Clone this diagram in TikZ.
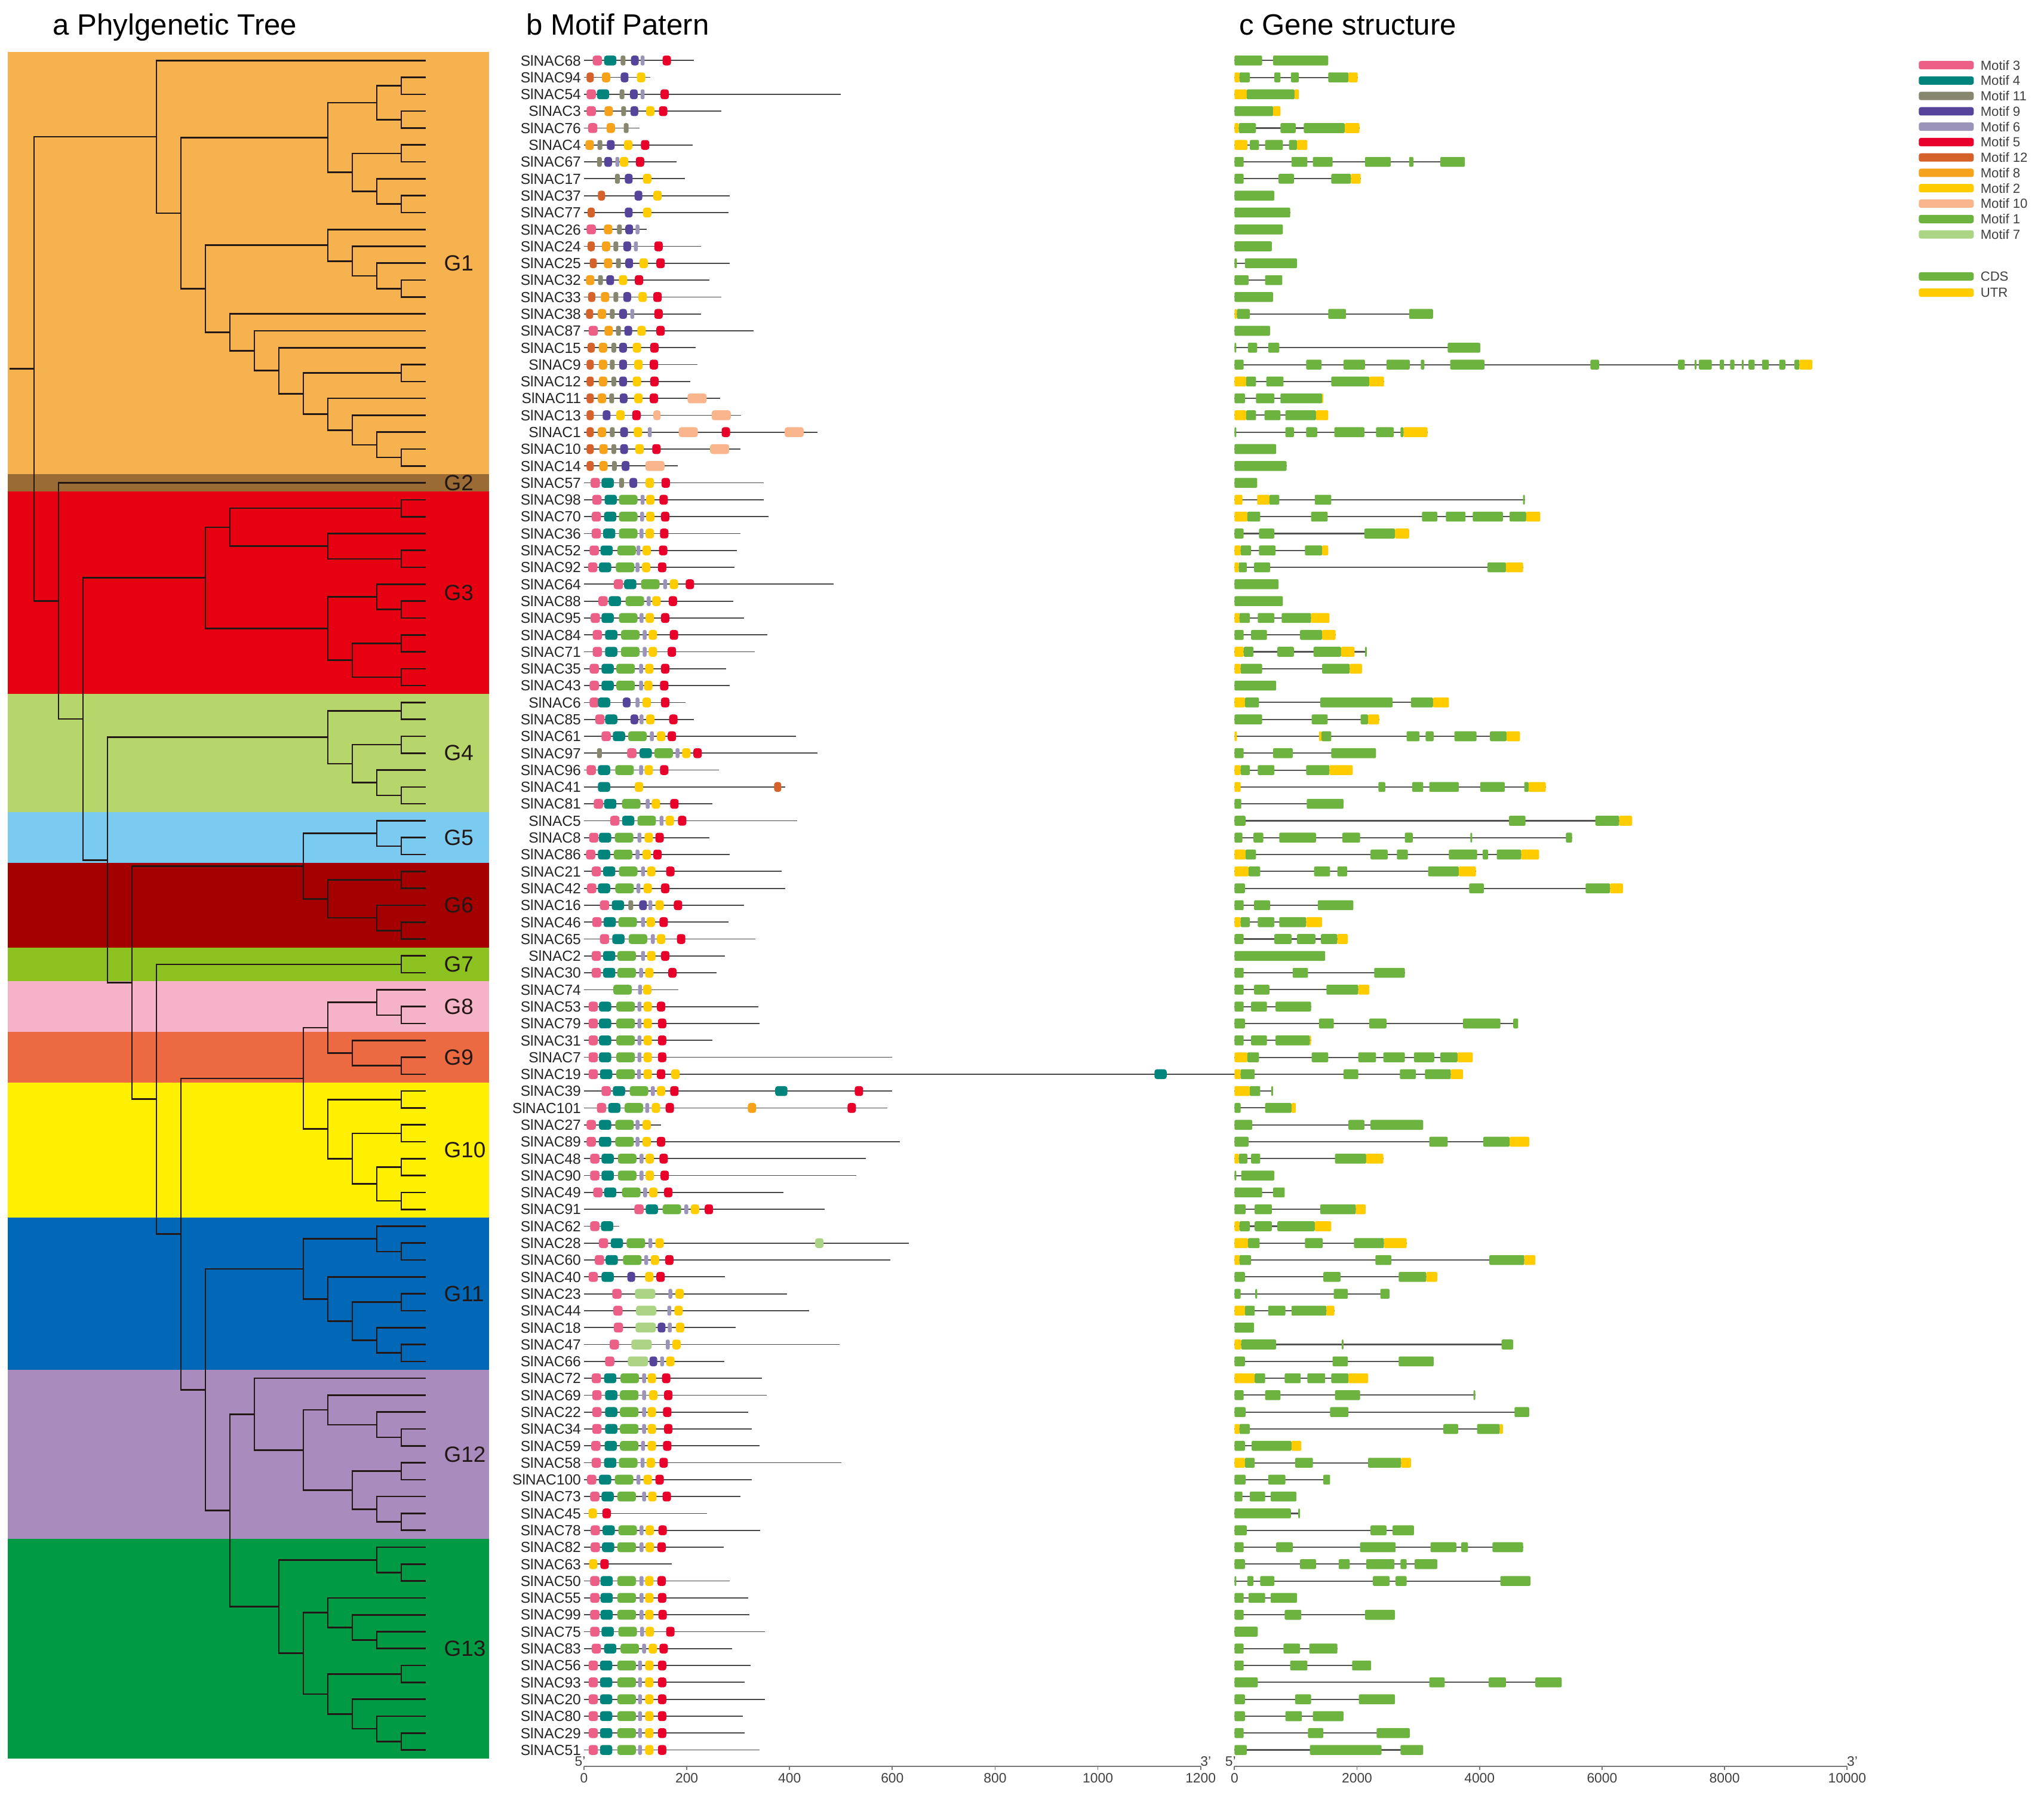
\documentclass[tikz,border=0pt]{standalone}
\usepackage{fontspec}
\setmainfont{Liberation Sans}
\usetikzlibrary{calc}

% group colours
\definecolor{gA}{HTML}{F5B24E}
\definecolor{gB}{HTML}{9B6B35}
\definecolor{gC}{HTML}{E60012}
\definecolor{gD}{HTML}{B6D56B}
\definecolor{gE}{HTML}{7BCBF0}
\definecolor{gF}{HTML}{A50000}
\definecolor{gG}{HTML}{8CC21F}
\definecolor{gH}{HTML}{F4B3C9}
\definecolor{gI}{HTML}{EC6A42}
\definecolor{gJ}{HTML}{FFF000}
\definecolor{gK}{HTML}{0068B7}
\definecolor{gL}{HTML}{A98BBE}
\definecolor{gM}{HTML}{009A44}
% motif colours
\definecolor{cm1}{HTML}{6DB33F}
\definecolor{cm2}{HTML}{FFCC00}
\definecolor{cm3}{HTML}{EC5F87}
\definecolor{cm4}{HTML}{00847C}
\definecolor{cm5}{HTML}{E8002A}
\definecolor{cm6}{HTML}{9B94B8}
\definecolor{cm7}{HTML}{ABD585}
\definecolor{cm8}{HTML}{F7A21B}
\definecolor{cm9}{HTML}{56449A}
\definecolor{cm10}{HTML}{F9B58C}
\definecolor{cm11}{HTML}{87876F}
\definecolor{cm12}{HTML}{D4622A}
\definecolor{treeline}{HTML}{231815}
\definecolor{axisgray}{HTML}{777777}

% one clade of the cladogram: name, level, upper child, lower child
\newcommand{\clade}[4]{%
  \coordinate (mid) at ($(#3)!0.5!(#4)$);
  \coordinate (#1) at (L#2 |- mid);
  \draw[branch] (#3) -| (#1) |- (#4);
}

\begin{document}
\begin{tikzpicture}[
  x=0.02183cm, y=-0.02183cm,
  branch/.style={draw=treeline, line width=0.75pt},
  title/.style={anchor=base west, font=\fontsize{14}{16}\selectfont},
  glabel/.style={anchor=west, text=treeline, font=\fontsize{10.5}{12}\selectfont},
  genelab/.style={anchor=east, inner sep=0pt, text=black!85, font=\fontsize{7}{8}\selectfont},
  protline/.style={draw=black!72, line width=0.5pt},
  intron/.style={draw=black!68, line width=0.6pt},
  motif/.style={rectangle, rounded corners=1.2pt, inner sep=0pt, minimum height=0.165cm},
  mot1/.style={motif, fill=cm1, minimum width=0.31cm},
  mot2/.style={motif, fill=cm2, minimum width=0.14cm},
  mot3/.style={motif, fill=cm3, minimum width=0.155cm},
  mot4/.style={motif, fill=cm4, minimum width=0.205cm},
  mot5/.style={motif, fill=cm5, minimum width=0.14cm},
  mot6/.style={motif, fill=cm6, minimum width=0.065cm, rounded corners=0.7pt},
  mot7/.style={motif, fill=cm7, minimum width=0.34cm},
  mot8/.style={motif, fill=cm8, minimum width=0.14cm},
  mot9/.style={motif, fill=cm9, minimum width=0.13cm},
  mot10/.style={motif, fill=cm10, minimum width=0.32cm},
  mot11/.style={motif, fill=cm11, minimum width=0.08cm, rounded corners=0.8pt},
  mot12/.style={motif, fill=cm12, minimum width=0.12cm},
  motq/.style={motif, fill=cm10, minimum width=0.12cm},
  motr/.style={motif, fill=cm7, minimum width=0.14cm},
  exc/.style={fill=cm1, rounded corners=0.6pt},
  exu/.style={fill=cm2, rounded corners=0.6pt},
  legbar/.style={rectangle, rounded corners=1pt, inner sep=0pt, minimum width=0.92cm, minimum height=0.14cm},
  leglab/.style={anchor=west, inner sep=0pt, text=black!75, font=\fontsize{6.3}{7}\selectfont},
  ticklab/.style={anchor=north, inner sep=0pt, text=black!75, font=\fontsize{6.5}{7}\selectfont},
  endlab/.style={anchor=south, inner sep=0pt, text=black!75, font=\fontsize{6.5}{7}\selectfont}
]
\useasboundingbox (0,0) rectangle (1568,1379);
\fill[white] (0,0) rectangle (1568,1379);

% panel titles
\node[title] (ta) at (35,27) {a Phylgenetic Tree};
\node[title] (tb) at (398,27) {b Motif Patern};
\node[title] (tc) at (945,27) {c Gene structure};

% group bands
\foreach \g/\a/\b/\col in {1/1/25/gA,2/26/26/gB,3/27/38/gC,4/39/45/gD,5/46/48/gE,6/49/53/gF,7/54/55/gG,
    8/56/58/gH,9/59/61/gI,10/62/69/gJ,11/70/78/gK,12/79/88/gL,13/89/101/gM}{
  \fill[\col] (6,{46.4+12.96*(\a-1)-6.48}) rectangle (375,{46.4+12.96*(\b-1)+6.48});
  \node[glabel] (G\g) at (335,{46.4+12.96*((\a+\b)/2-1)}) {G\g};
}

% leaves and levels of the tree
\foreach \i in {1,...,101}
  \coordinate (l\i) at (326.6,{46.4+12.96*(\i-1)});
\foreach \k in {0,...,17}
  \coordinate (L\k) at ({7.3+18.78*\k},0);

% G1
\clade{a1}{16}{l2}{l3}
\clade{a2}{16}{l4}{l5}
\clade{a3}{15}{a1}{a2}
\clade{a4}{16}{l6}{l7}
\clade{a5}{16}{l9}{l10}
\clade{a6}{15}{l8}{a5}
\clade{a7}{14}{a4}{a6}
\clade{a8}{13}{a3}{a7}
\clade{a9}{16}{l14}{l15}
\clade{a10}{15}{l13}{a9}
\clade{a11}{14}{l12}{a10}
\clade{a12}{13}{l11}{a11}
\clade{a13}{16}{l24}{l25}
\clade{a14}{15}{l23}{a13}
\clade{a15}{14}{l22}{a14}
\clade{a16}{13}{l21}{a15}
\clade{a17}{16}{l19}{l20}
\clade{a18}{12}{a17}{a16}
\clade{a19}{11}{l18}{a18}
\clade{a20}{10}{l17}{a19}
\clade{a21}{9}{l16}{a20}
\clade{a22}{8}{a12}{a21}
\clade{a23}{7}{a8}{a22}
\clade{a24}{6}{l1}{a23}
% G3
\clade{b1}{16}{l27}{l28}
\clade{b2}{16}{l30}{l31}
\clade{b3}{13}{l29}{b2}
\clade{b4}{9}{b1}{b3}
\clade{b5}{16}{l33}{l34}
\clade{b6}{15}{l32}{b5}
\clade{b7}{16}{l35}{l36}
\clade{b8}{16}{l37}{l38}
\clade{b9}{14}{b7}{b8}
\clade{b10}{13}{b6}{b9}
\clade{b11}{8}{b4}{b10}
% G4
\clade{c1}{16}{l39}{l40}
\clade{c2}{16}{l41}{l42}
\clade{c3}{16}{l44}{l45}
\clade{c4}{15}{l43}{c3}
\clade{c5}{14}{c2}{c4}
\clade{c6}{13}{c1}{c5}
% G5 and G6
\clade{d1}{16}{l47}{l48}
\clade{d2}{15}{l46}{d1}
\clade{d3}{16}{l49}{l50}
\clade{d4}{16}{l52}{l53}
\clade{d5}{15}{l51}{d4}
\clade{d6}{13}{d3}{d5}
\clade{d7}{12}{d2}{d6}
% G7
\clade{e1}{16}{l54}{l55}
% G8, G9 and G10
\clade{f1}{16}{l57}{l58}
\clade{f2}{15}{l56}{f1}
\clade{f3}{16}{l60}{l61}
\clade{f4}{14}{l59}{f3}
\clade{f5}{13}{f2}{f4}
\clade{f6}{16}{l62}{l63}
\clade{f7}{16}{l64}{l65}
\clade{f8}{16}{l66}{l67}
\clade{f9}{16}{l68}{l69}
\clade{f10}{15}{f8}{f9}
\clade{f11}{14}{f7}{f10}
\clade{f12}{13}{f6}{f11}
\clade{f13}{12}{f5}{f12}
% G11
\clade{g1}{16}{l71}{l72}
\clade{g2}{15}{l70}{g1}
\clade{g3}{16}{l74}{l75}
\clade{g4}{16}{l77}{l78}
\clade{g5}{15}{l76}{g4}
\clade{g6}{14}{g3}{g5}
\clade{g7}{13}{l73}{g6}
\clade{g8}{12}{g2}{g7}
% G12
\clade{h1}{16}{l82}{l83}
\clade{h2}{15}{l81}{h1}
\clade{h3}{13}{l80}{h2}
\clade{h4}{16}{l84}{l85}
\clade{h5}{16}{l87}{l88}
\clade{h6}{15}{l86}{h5}
\clade{h7}{14}{h4}{h6}
\clade{h8}{12}{h3}{h7}
\clade{h9}{10}{l79}{h8}
% G13
\clade{k1}{16}{l90}{l91}
\clade{k2}{15}{l89}{k1}
\clade{k3}{15}{l94}{l95}
\clade{k4}{14}{l93}{k3}
\clade{k5}{13}{l92}{k4}
\clade{k6}{16}{l96}{l97}
\clade{k7}{16}{l100}{l101}
\clade{k8}{15}{l99}{k7}
\clade{k9}{14}{l98}{k8}
\clade{k10}{13}{k6}{k9}
\clade{k11}{12}{k5}{k10}
\clade{k12}{11}{k2}{k11}
\clade{k13}{9}{h9}{k12}
% backbone
\clade{m1}{8}{g8}{k13}
\clade{m2}{7}{f13}{m1}
\clade{m3}{6}{e1}{m2}
\clade{m4}{5}{d7}{m3}
\clade{m5}{4}{c6}{m4}
\clade{m6}{3}{b11}{m5}
\clade{m7}{2}{l26}{m6}
\clade{m8}{1}{a24}{m7}
\draw[branch] (L0 |- m8) -- (m8);

% motif pattern: row/gene/length/motifs
\foreach \i/\n/\len/\mots in {
  1/68/214/{3/26,4/51,11/76,9/99,6/114,5/161},
  2/94/129/{12/12,8/43,9/79,2/111},
  3/54/500/{3/14,4/37,11/74,9/97,6/114,5/157},
  4/3/267/{3/14,8/48,11/77,9/98,2/129,5/154},
  5/76/108/{3/17,8/52,11/82},
  6/4/212/{8/11,11/31,9/52,2/86,5/119},
  7/67/180/{11/30,9/47,6/65,2/78,5/109},
  8/17/196/{11/65,9/87,2/123},
  9/37/283/{12/34,9/106,2/143},
  10/77/281/{12/14,9/87,2/123},
  11/26/122/{3/14,8/47,11/69,9/88,6/104},
  12/24/228/{12/14,8/43,11/62,9/84,6/101,5/145},
  13/25/283/{12/18,8/47,11/67,9/88,2/116,5/149},
  14/32/244/{8/12,11/32,9/51,2/76,5/107},
  15/33/267/{12/15,8/41,11/62,9/84,2/114,5/143},
  16/38/228/{12/11,8/35,11/55,9/76,6/94,5/145},
  17/87/330/{3/18,8/48,11/67,9/86,2/112,5/149},
  18/15/217/{12/14,8/37,11/58,9/76,2/103,5/137},
  19/9/221/{12/12,8/37,11/55,9/76,2/106,5/136},
  20/12/207/{12/12,8/37,11/58,9/76,2/103,5/137},
  21/11/265/{12/12,8/35,11/54,9/77,2/106,5/136,10/220},
  22/13/306/{12/12,9/44,2/71,5/102,q/142,10/267},
  23/1/454/{12/12,8/35,11/55,9/78,2/105,6/128,10/203,5/276,10/409},
  24/10/304/{12/12,8/38,11/58,9/78,2/108,5/141,10/264},
  25/14/182/{12/12,8/38,11/59,9/81,10/138},
  26/57/350/{3/22,4/46,11/73,9/96,2/128,5/159},
  27/98/350/{3/25,4/52,1/86,6/114,2/129,5/155},
  28/70/359/{3/24,4/51,1/86,6/113,2/129,5/158},
  29/36/304/{3/24,4/49,1/86,6/112,2/128,5/156},
  30/52/297/{3/20,4/44,1/83,6/106,2/122,5/154},
  31/92/293/{3/17,4/41,1/80,6/104,2/121,5/152},
  32/64/486/{3/67,4/90,1/129,6/158,2/175,5/206},
  33/88/290/{3/37,4/60,1/99,6/126,2/141,5/173},
  34/95/311/{3/22,4/46,1/86,6/112,2/128,5/158},
  35/84/357/{3/26,4/53,1/90,6/118,2/134,5/175},
  36/71/332/{3/26,4/53,1/90,6/118,2/134,5/171},
  37/35/276/{3/20,4/46,1/81,6/111,2/127,5/158},
  38/43/283/{3/20,4/46,1/81,6/111,2/125,5/156},
  39/6/198/{3/20,4/39,9/83,6/104,2/122,5/158},
  40/85/214/{3/31,4/53,9/98,6/112,2/129,5/174},
  41/61/412/{3/43,4/68,1/104,6/132,2/150,5/171},
  42/97/454/{11/30,3/93,4/120,1/155,6/182,2/199,5/221},
  43/96/263/{3/14,4/39,1/79,6/111,2/126,5/156},
  44/41/392/{4/39,2/107,12/377},
  45/81/250/{3/28,4/51,1/92,6/124,2/140,5/176},
  46/5/415/{3/60,4/86,1/122,6/151,2/167,5/191},
  47/8/244/{3/19,4/41,1/78,6/108,2/126,5/147},
  48/86/284/{3/13,4/39,1/76,6/104,2/122,5/143},
  49/21/385/{3/24,4/49,1/86,6/115,2/131,5/168},
  50/42/392/{3/15,4/39,1/79,6/106,2/124,5/158},
  51/16/311/{3/40,4/66,11/91,9/115,6/129,2/147,5/183},
  52/46/281/{3/25,4/50,1/85,6/115,2/130,5/155},
  53/65/333/{3/40,4/67,1/105,6/134,2/150,5/189},
  54/2/274/{3/24,4/49,1/83,6/115,2/131,5/158},
  55/30/258/{3/24,4/49,1/83,6/111,2/127,5/172},
  56/74/184/{1/75,6/109,2/123},
  57/53/339/{3/18,4/41,1/81,6/108,2/124,5/150},
  58/79/342/{3/18,4/41,1/81,6/108,2/124,5/152},
  59/31/250/{3/18,4/41,1/81,6/108,2/124,5/152},
  60/7/600/{3/18,4/41,1/81,6/108,2/124,5/152},
  61/19/1465/{3/18,4/43,1/81,6/107,2/124,5/150,2/178,4/1122},
  62/39/600/{3/43,4/68,1/107,6/134,2/150,5/176,4/384,5/535},
  63/101/590/{3/34,4/59,1/97,6/123,2/140,5/167,8/327,5/521},
  64/27/150/{3/14,4/41,1/79,6/104,2/122},
  65/89/615/{3/14,4/41,1/79,6/104,2/122,5/150},
  66/48/548/{3/21,4/46,1/84,6/112,2/128,5/155},
  67/90/530/{3/21,4/46,1/84,6/112,2/128,5/157},
  68/49/388/{3/27,4/51,1/92,6/119,2/135,5/164},
  69/91/468/{3/107,4/132,1/171,6/199,2/216,5/243},
  70/62/68/{3/21,4/45},
  71/28/632/{3/38,4/64,1/101,6/129,2/147,r/458},
  72/60/596/{3/30,4/54,1/94,6/121,2/138,5/166},
  73/40/274/{3/18,4/46,9/92,2/127,5/149},
  74/23/395/{3/64,7/119,6/168,2/186},
  75/44/438/{3/66,7/121,6/166,2/184},
  76/18/295/{3/67,7/120,9/151,6/167,2/187},
  77/47/497/{3/59,7/112,6/163,2/180},
  78/66/273/{3/50,7/105,9/135,6/152,2/168},
  79/72/346/{3/24,4/51,1/89,6/117,2/132,5/160},
  80/69/355/{3/25,4/53,1/88,6/117,2/135,5/164},
  81/22/320/{3/25,4/53,1/88,6/117,2/132,5/162},
  82/34/327/{3/25,4/53,1/88,6/117,2/132,5/164},
  83/59/342/{3/23,4/52,1/88,6/115,2/132,5/162},
  84/58/501/{3/24,4/51,1/86,6/114,2/130,5/155},
  85/100/327/{3/15,4/41,1/78,6/106,2/124,5/147},
  86/73/304/{3/21,4/46,1/83,6/117,2/133,5/161},
  87/45/239/{2/17,5/44},
  88/78/343/{3/22,4/48,1/85,6/112,2/128,5/153},
  89/82/272/{3/22,4/47,1/83,6/112,2/128,5/151},
  90/63/171/{2/18,5/40},
  91/50/283/{3/21,4/44,1/83,6/112,2/127,5/151},
  92/55/320/{3/21,4/44,1/83,6/112,2/127,5/152},
  93/99/322/{3/21,4/44,1/83,6/112,2/127,5/153},
  94/75/352/{3/21,4/46,1/85,6/113,2/128,5/168},
  95/83/288/{3/24,4/51,1/89,6/117,2/134,5/155},
  96/56/324/{3/18,4/43,1/83,6/109,2/127,5/152},
  97/93/313/{3/18,4/43,1/83,6/109,2/127,5/152},
  98/20/352/{3/18,4/43,1/83,6/109,2/127,5/152},
  99/80/309/{3/18,4/43,1/83,6/109,2/127,5/152},
  100/29/313/{3/18,4/43,1/83,6/109,2/127,5/152},
  101/51/342/{3/18,4/43,1/83,6/109,2/127,5/152}}{
  \pgfmathsetmacro\yy{46.4+12.96*(\i-1)}
  \node[genelab] (lab\i) at (446,\yy) {SlNAC\n};
  \coordinate (p\i) at (448,\yy);
  \draw[protline] (p\i) -- ++({0.3942*\len},0);
  \foreach \id/\c in \mots
    \node[mot\id] (mot\i-\c) at ({448+0.3942*\c},\yy) {};
}

% gene structure: row/length/exons (hundreds of bp)
\foreach \i/\gend/\segs in {
  1/15.3/{0/4.5/c,6.3/15.3/c},
  2/20.1/{0/0.8/u,0.8/2.5/c,6.5/7.5/c,9.2/10.5/c,15.3/18.6/c,18.6/20.1/u},
  3/10.5/{0/2/u,2/9.8/c,9.8/10.5/u},
  4/7.5/{0/6.3/c,6.3/7.5/u},
  5/20.4/{0/0.7/u,0.7/3.5/c,7.5/10/c,11.3/18/c,18/20.4/u},
  6/11.9/{0/2.1/u,2.5/4/c,5/7.9/c,8.9/10.2/c,10.2/11.9/u},
  7/37.6/{0/1.5/c,9.3/11.9/c,12.8/16/c,21.3/25.5/c,28.5/29.2/c,33.6/37.6/c},
  8/20.6/{0/1.5/c,7.2/9.7/c,15.8/19/c,19/20.6/u},
  9/6.5/{0/6.5/c},
  10/9.1/{0/9.1/c},
  11/7.9/{0/7.9/c},
  12/6.1/{0/6.1/c},
  13/10.2/{0/0.4/c,1.7/10.2/c},
  14/7.8/{0/2.3/c,5/7.8/c},
  15/6.3/{0/6.3/c},
  16/32.4/{0/0.4/u,0.4/2.5/c,15.3/18.2/c,28.5/32.4/c},
  17/5.8/{0/5.8/c},
  18/40.1/{0/0.3/c,2.2/3.7/c,5.5/7.3/c,34.8/40.1/c},
  19/94.3/{0/1.5/c,11.7/14.2/c,17.8/21.3/c,24.8/28.6/c,30.4/31/c,35.2/40.8/c,58.1/59.5/c,72.4/73.5/c,75.1/75.4/c,75.8/77.9/c,79.2/79.9/c,80.9/81.6/c,82.8/83.1/c,83.9/84.9/c,86.1/87.2/c,88.9/89.9/c,91.4/92.2/c,92.2/94.3/u},
  20/24.4/{0/1.9/u,1.9/3.5/c,5.2/8/c,15.8/22/c,22/24.4/u},
  21/14.5/{0/1.7/c,3.5/6.5/c,7.5/14.3/c,14.3/14.5/u},
  22/15.3/{0/1.9/u,1.9/3.5/c,4.9/7.5/c,8.3/13.3/c,13.3/15.3/u},
  23/31.5/{0/0.3/c,8.3/9.7/c,11.7/13.5/c,16.3/21.2/c,23.1/26/c,27.1/27.6/c,27.6/31.5/u},
  24/6.8/{0/6.8/c},
  25/8.5/{0/8.5/c},
  26/3.7/{0/3.7/c},
  27/47.4/{0/1.3/u,3.7/5.7/u,5.7/7.3/c,13.1/15.8/c,47.1/47.4/c},
  28/49.9/{0/2.1/u,2.1/4.2/c,12.5/15.2/c,30.6/33.1/c,34.5/37.7/c,38.9/43.8/c,44.9/47.6/c,47.6/49.9/u},
  29/28.5/{0/1.5/c,4/6.5/c,21.2/26.2/c,26.2/28.5/u},
  30/15.3/{0/1/u,1/2.7/c,4/6.7/c,11.5/14.3/c,14.3/15.3/u},
  31/47.1/{0/0.7/u,0.7/2/c,3.2/5.8/c,41.3/44.3/c,44.3/47.1/u},
  32/7.2/{0/7.2/c},
  33/7.9/{0/7.9/c},
  34/15.5/{0/0.8/u,0.8/2.5/c,3.8/6.5/c,7.7/12.5/c,12.5/15.5/u},
  35/16.5/{0/1.5/c,2.7/5.3/c,10.7/14.3/c,14.3/16.5/u},
  36/21.6/{0/1.5/u,1.5/3.1/c,7/9.7/c,12.9/17.4/c,17.4/19.6/u,21.3/21.6/c},
  37/20.8/{0/1/u,1/4.5/c,14.3/18.8/c,18.8/20.8/u},
  38/6.8/{0/6.8/c},
  39/35/{0/1.7/u,1.7/4/c,14/25.8/c,28.8/32.4/c,32.4/35/u},
  40/23.6/{0/4.5/c,12.6/15.2/c,20.6/21.8/c,21.8/23.6/u},
  41/46.6/{0/0.4/u,13.8/14.2/u,14.2/15.8/c,28.1/30.2/c,31.2/32.5/c,35.9/39.5/c,41.7/44.4/c,44.4/46.6/u},
  42/23.1/{0/1.5/c,6.3/9.5/c,15.8/23.1/c},
  43/19.3/{0/1/u,1/2.5/c,3.8/6.5/c,11.7/15.5/c,15.5/19.3/u},
  44/50.8/{0/1/u,23.5/24.6/c,29/30.8/c,31.8/36.6/c,40.1/44.1/c,47.3/48/c,48/50.8/u},
  45/17.8/{0/1.1/c,11.8/17.8/c},
  46/64.9/{0/1.8/c,44.8/47.5/c,58.9/62.8/c,62.8/64.9/u},
  47/55.1/{0/1.3/c,3.1/4.7/c,7.3/13.3/c,17.6/20.5/c,27.8/29.1/c,38.5/38.8/c,54.1/55.1/c},
  48/49.7/{0/1.8/u,1.8/3.5/c,22.2/25/c,26.5/28.3/c,35/39.6/c,40.5/41.4/c,42.8/46.8/c,46.8/49.7/u},
  49/39.4/{0/2.3/u,2.3/4.2/c,13/15.6/c,16.8/18.4/c,31.6/36.6/c,36.6/39.4/u},
  50/63.4/{0/1.7/c,38.3/40.7/c,57.3/61.3/c,61.3/63.4/u},
  51/19.4/{0/1.5/c,3.2/5.8/c,13.6/19.4/c},
  52/14.3/{0/1/u,1/2.5/c,3.8/6.5/c,7.3/11.7/c,11.7/14.3/u},
  53/18.5/{0/1.5/c,6.5/9.3/c,10.2/13.2/c,14.1/16.8/c,16.8/18.5/u},
  54/14.8/{0/14.8/c},
  55/27.8/{0/1.5/c,9.5/12/c,22.8/27.8/c},
  56/22/{0/1.5/c,3.2/5.7/c,15/20.2/c,20.2/22/u},
  57/12.5/{0/1.5/c,2.7/5.3/c,6.7/12.5/c},
  58/46.3/{0/1.7/c,13.8/16.2/c,22/24.8/c,37.3/43.4/c,45.5/46.3/c},
  59/12.5/{0/1.5/c,2.7/5.3/c,6.7/12.3/c,12.3/12.5/u},
  60/38.9/{0/2.1/u,2.1/4/c,12.6/15.3/c,20.2/23.1/c,24.3/27.8/c,29.3/32.6/c,33.6/36.4/c,36.4/38.9/u},
  61/37.3/{0/1/u,1/3.3/c,17.8/20.2/c,27/29.6/c,31.1/35.3/c,35.3/37.3/u},
  62/6.3/{0/2.5/u,2.5/4.2/c,6/6.3/c},
  63/10/{0/1/c,5/9.3/c,9.3/10/u},
  64/30.8/{0/2.9/c,18.6/21.2/c,22.2/30.8/c},
  65/48.1/{0/2.3/c,31.8/34.8/c,40.6/44.9/c,44.9/48.1/u},
  66/24.3/{0/0.7/u,0.7/2.1/c,2.7/4.2/c,16.4/21.5/c,21.5/24.3/u},
  67/6.5/{0/0.3/c,1.1/6.5/c},
  68/8.2/{0/4.5/c,6.3/8.2/c},
  69/21.4/{0/1.8/c,3.3/6.1/c,14/19.8/c,19.8/21.4/u},
  70/15.8/{0/0.8/u,0.8/2.5/c,3.3/6.1/c,7/13.1/c,13.1/15.8/u},
  71/28.1/{0/2.2/u,2.2/4.1/c,11.5/14.4/c,19.5/24.4/c,24.4/28.1/u},
  72/49.1/{0/0.8/u,0.8/2.7/c,23/25.6/c,41.6/47.3/c,47.3/49.1/u},
  73/33.1/{0/1.7/c,14.5/17.3/c,26.8/31.3/c,31.3/33.1/u},
  74/25.3/{0/1/c,3.4/3.7/c,16.2/18.5/c,23.8/25.3/c},
  75/16.3/{0/1.7/u,1.7/3.3/c,5.5/8.3/c,9.3/15/c,15/16.3/u},
  76/3.2/{0/3.2/c},
  77/45.5/{0/1.1/u,1.1/6.8/c,17.5/17.8/c,43.6/45.5/c},
  78/32.5/{0/1.7/c,16/18.5/c,26.8/32.5/c},
  79/21.8/{0/3.3/u,3.3/5/c,8.2/10.8/c,11.9/14.8/c,15.8/18.6/c,18.6/21.8/u},
  80/39.3/{0/1.5/c,5/7.5/c,16.4/20.5/c,39/39.3/c},
  81/48.1/{0/1.8/c,15.6/18.6/c,45.7/48.1/c},
  82/43.8/{0/0.8/u,0.8/2.5/c,34.1/36.5/c,39.6/43.3/c,43.3/43.8/u},
  83/10.9/{0/1.7/c,2.8/9.3/c,9.3/10.9/u},
  84/28.8/{0/1.7/u,1.7/3.3/c,9.9/12.8/c,21.8/27.2/c,27.2/28.8/u},
  85/15.6/{0/1.8/c,5.5/8.3/c,14.5/15.6/c},
  86/10.1/{0/1.3/c,2.5/5/c,5.9/10.1/c},
  87/10.7/{0/9.2/c,10.4/10.7/c},
  88/29.3/{0/2/c,22.2/24.8/c,25.8/29.3/c},
  89/47.1/{0/1.5/c,6.8/9.5/c,20.5/26.3/c,32/36.2/c,37/38.1/c,42.1/47.1/c},
  90/33.1/{0/1.7/c,10.7/13.3/c,17/18.8/c,21.5/26.1/c,27.1/28.1/c,29.4/33.1/c},
  91/48.3/{0/0.3/c,2.1/3.1/c,4.2/6.5/c,22.6/25.3/c,26.3/28.1/c,43.4/48.3/c},
  92/10.2/{0/1.5/c,2.3/5/c,5.9/10.2/c},
  93/26.2/{0/1.5/c,8.2/10.9/c,21.3/26.2/c},
  94/3.8/{0/3.8/c},
  95/16.8/{0/1.5/c,8/10.7/c,12.2/16.8/c},
  96/22.3/{0/1.5/c,9.1/11.9/c,19.2/22.3/c},
  97/53.4/{0/3.8/c,31.8/34.3/c,41.5/44.3/c,49.1/53.4/c},
  98/26.2/{0/1.7/c,9.9/12.5/c,20.3/26.2/c},
  99/17.8/{0/1.7/c,8.3/11/c,12.8/17.8/c},
  100/28.6/{0/1.5/c,12/14.5/c,23.2/28.6/c},
  101/30.8/{0/2/c,12.3/24/c,27.1/30.8/c}}{
  \pgfmathsetmacro\yy{46.4+12.96*(\i-1)}
  \coordinate (s\i) at (947,\yy);
  \draw[intron] (s\i) -- ++({4.7*\gend},0);
  \foreach \s/\e/\t in \segs
    \fill[ex\t] ({947+4.7*\s},{\yy-3.8}) rectangle ({947+4.7*\e},{\yy+3.8});
}

% axes
\coordinate (ma0) at (448,1355);
\coordinate (ma1) at (921,1355);
\draw[axisgray, line width=0.6pt] (ma0) -- (ma1);
\foreach \t in {0,200,...,1200}{
  \draw[axisgray, line width=0.5pt] ({448+0.3942*\t},1355) -- ++(0,2.5);
  \node[ticklab] (mt\t) at ({448+0.3942*\t},1360) {\t};
}
\node[endlab] (m5p) at (445,1355) {5'};
\node[endlab] (m3p) at (925,1355) {3'};
\coordinate (ga0) at (947,1355);
\coordinate (ga1) at (1417,1355);
\draw[axisgray, line width=0.6pt] (ga0) -- (ga1);
\foreach \t in {0,2000,...,10000}{
  \draw[axisgray, line width=0.5pt] ({947+0.047*\t},1355) -- ++(0,2.5);
  \node[ticklab] (gt\t) at ({947+0.047*\t},1360) {\t};
}
\node[endlab] (g5p) at (944,1355) {5'};
\node[endlab] (g3p) at (1421,1355) {3'};

% legend
\foreach \k/\id in {0/3,1/4,2/11,3/9,4/6,5/5,6/12,7/8,8/2,9/10,10/1,11/7}{
  \node[legbar, fill=cm\id] (key\id) at (1493,{50+11.8*\k}) {};
  \node[leglab] (keylab\id) at (1519,{50+11.8*\k}) {Motif \id};
}
\node[legbar, fill=cm1] (keycds) at (1493,212) {};
\node[leglab] (keycdslab) at (1519,212) {CDS};
\node[legbar, fill=cm2] (keyutr) at (1493,224.5) {};
\node[leglab] (keyutrlab) at (1519,224.5) {UTR};

\end{tikzpicture}
\end{document}
